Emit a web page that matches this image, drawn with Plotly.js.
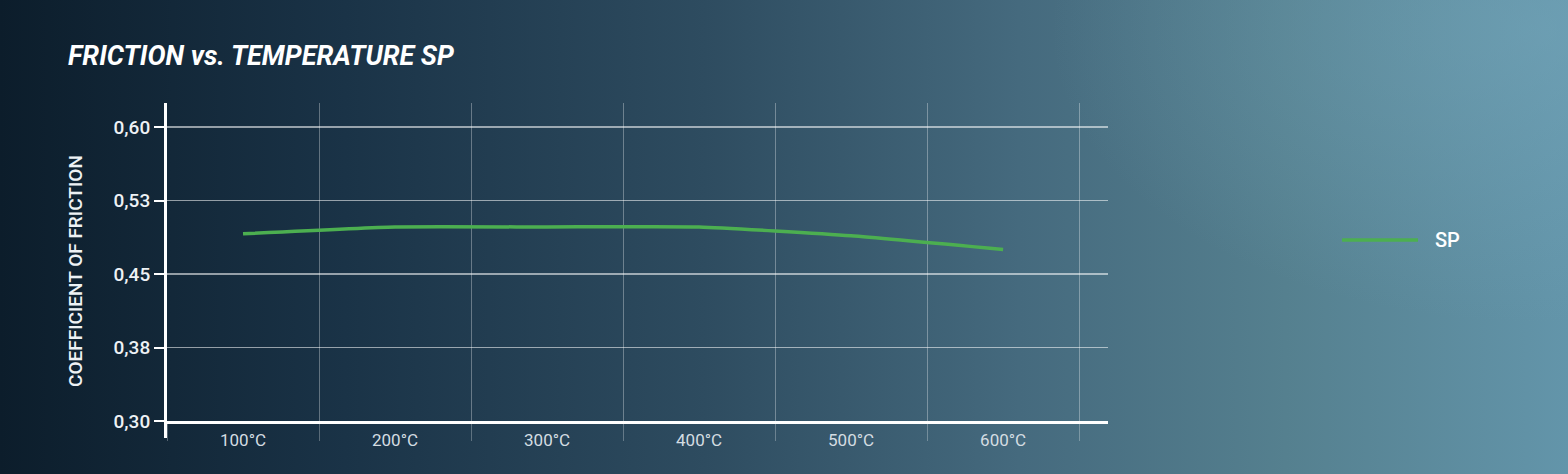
<!DOCTYPE html>
<html>
<head>
<meta charset="utf-8">
<script src="https://cdn.plot.ly/plotly-3.0.1.min.js"></script>
<style>
  html, body { margin: 0; padding: 0; width: 1568px; height: 474px; overflow: hidden; }
  body {
    background:
      radial-gradient(ellipse 700px 420px at 1540px 30px, rgba(120,170,190,0.45), rgba(120,170,190,0) 70%),
      linear-gradient(90deg, #0c1d2b 0%, #1a3347 22%, #2e4c60 45%, #456a7e 65%, #55808f 82%, #6395aa 100%);
  }
  #chart { width: 1568px; height: 474px; }
</style>
</head>
<body>
<div id="chart"></div>
<script>
// ---- data ----
const categories = ['100°C', '200°C', '300°C', '400°C', '500°C', '600°C'];
const seriesName = 'SP';
const spValues = [0.491, 0.498, 0.498, 0.498, 0.489, 0.475];
const yTickValues = [0.30, 0.375, 0.45, 0.525, 0.60];
const yTickLabels = ['0,30', '0,38', '0,45', '0,53', '0,60'];
const chartTitle = 'FRICTION vs. TEMPERATURE SP';
const yTitle = 'COEFFICIENT OF FRICTION';

const FONT = 'Roboto, "Noto Sans", "DejaVu Sans", sans-serif';
const GREEN = '#4caf50';

const trace = {
  type: 'scatter',
  mode: 'lines',
  name: seriesName,
  x: categories,
  y: spValues,
  line: { color: GREEN, width: 3.5, shape: 'spline', smoothing: 0.45 },
  showlegend: false,
  hoverinfo: 'x+y'
};

// plot-area geometry (px) used for paper positioning of the legend / axis extras
const plotL = 167, plotR = 1108, plotT = 103, plotB = 421;
const pw = plotR - plotL, ph = plotB - plotT;
const px = x => (x - plotL) / pw;
const py = y => (plotB - y) / ph;

const layout = {
  width: 1568,
  height: 474,
  paper_bgcolor: 'rgba(0,0,0,0)',
  plot_bgcolor: 'rgba(0,0,0,0)',
  margin: { l: plotL, r: 1568 - plotR, t: plotT, b: 474 - plotB, pad: 0 },
  font: { family: FONT, color: '#ffffff' },
  title: {
    text: chartTitle,
    font: { family: FONT, size: 27, color: '#ffffff', weight: 700, style: 'italic' },
    x: 68 / 1568, xanchor: 'left', xref: 'container',
    y: 1 - 56 / 474, yanchor: 'middle', yref: 'container'
  },
  xaxis: {
    type: 'category',
    range: [-0.5, 5.69],
    tickson: 'boundaries',
    ticks: 'outside',
    ticklen: 17,
    tickwidth: 1,
    tickcolor: 'rgba(255,255,255,0.28)',
    showgrid: true,
    gridcolor: 'rgba(255,255,255,0.32)',
    gridwidth: 1,
    showline: true,
    linecolor: '#ffffff',
    linewidth: 3,
    ticklabelstandoff: 2,
    tickfont: { family: FONT, size: 17, color: '#d4dde2' },
    zeroline: false,
    fixedrange: true
  },
  yaxis: {
    range: [0.30, 0.6245],
    tickmode: 'array',
    tickvals: yTickValues,
    ticktext: yTickLabels,
    ticks: 'outside',
    ticklen: 10,
    tickwidth: 2,
    tickcolor: '#ffffff',
    showgrid: true,
    gridcolor: 'rgba(255,255,255,0.55)',
    gridwidth: 1.5,
    showline: true,
    linecolor: '#ffffff',
    linewidth: 3,
    zeroline: false,
    tickfont: { family: FONT, size: 19, color: '#eef2f5', weight: 500 },
    fixedrange: true
  },
  shapes: [
    // y-axis line extension below the x-axis
    { type: 'line', xref: 'paper', yref: 'paper', x0: -1.5 / pw, x1: -1.5 / pw, y0: 0, y1: py(438),
      line: { color: '#ffffff', width: 3 } },
    // legend line sample
    { type: 'line', xref: 'paper', yref: 'paper', x0: px(1342), x1: px(1418), y0: py(240), y1: py(240),
      line: { color: GREEN, width: 3.5 } }
  ],
  annotations: [
    { text: seriesName, xref: 'paper', yref: 'paper', x: px(1433), y: py(240),
      xanchor: 'left', yanchor: 'middle', showarrow: false,
      font: { family: FONT, size: 20, color: '#ffffff', weight: 500 } },
    { text: yTitle, xref: 'paper', yref: 'paper', x: px(75), y: py(271),
      xanchor: 'center', yanchor: 'middle', textangle: -90, showarrow: false,
      font: { family: FONT, size: 19, color: '#eef2f5', weight: 500 } }
  ],
  showlegend: false
};

Plotly.newPlot('chart', [trace], layout, { displayModeBar: false, staticPlot: true });
</script>
</body>
</html>
